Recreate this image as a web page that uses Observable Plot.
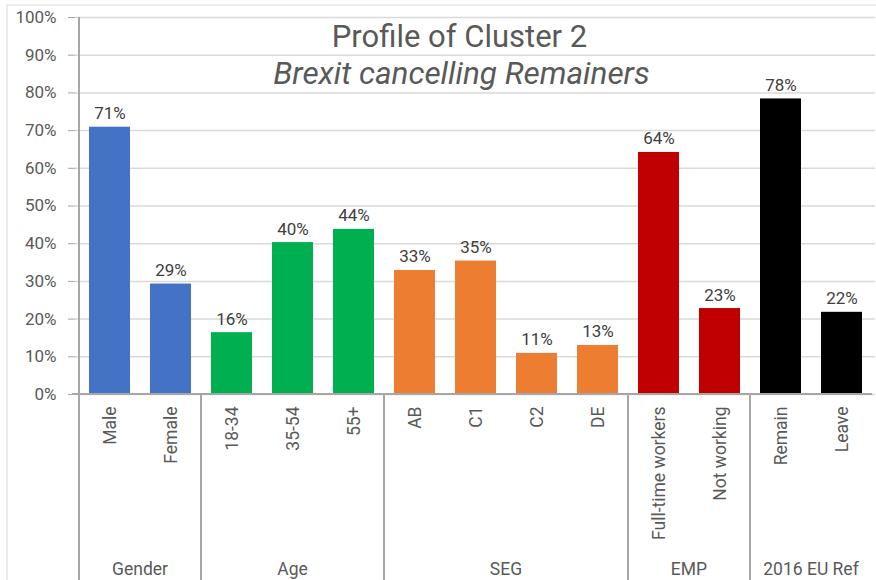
<!DOCTYPE html>
<html><head><meta charset="utf-8">
<script src="https://cdn.jsdelivr.net/npm/d3@7"></script>
<script src="https://cdn.jsdelivr.net/npm/@observablehq/plot@0.6"></script>
<style>body{margin:0;background:#fff} svg{display:block}</style>
</head><body><div id="chart"></div>
<script>
const categories = ["Male","Female","18-34","35-54","55+","AB","C1","C2","DE","Full-time workers","Not working","Remain","Leave"];
const categoryGroup = ["Gender","Gender","Age","Age","Age","SEG","SEG","SEG","SEG","EMP","EMP","2016 EU Ref","2016 EU Ref"];
const values = [0.709,0.293,0.164,0.403,0.438,0.329,0.354,0.109,0.130,0.642,0.228,0.784,0.218];
const groups = ["Gender","Age","SEG","EMP","2016 EU Ref"];
const groupColors = ["#4472C4","#00B050","#ED7D31","#C00000","#000000"];
const yTicks = [0,0.1,0.2,0.3,0.4,0.5,0.6,0.7,0.8,0.9,1.0];
const title = "Profile of Cluster 2";
const subtitle = "Brexit cancelling Remainers";

const data = categories.map((c,i)=>({cat:c, group:categoryGroup[i], value:values[i]}));
const font = "Roboto, 'Open Sans', sans-serif";

const plot = Plot.plot({
  width: 876, height: 580,
  marginLeft: 75, marginRight: 1, marginTop: 17, marginBottom: 186,
  style: {fontFamily: font, fontSize: "17px", color: "#595959", background: "#fff"},
  x: {domain: categories, paddingInner: 0.33, paddingOuter: 0.165, label: null},
  y: {domain: [0,1], label: null},
  color: {domain: groups, range: groupColors},
  marks: [
    Plot.gridY(yTicks, {stroke: "#d9d9d9", strokeOpacity: 1, strokeWidth: 1.5}),
    Plot.barY(data, {x: "cat", y: "value", fill: "group"}),
    Plot.text(data, {x: "cat", y: "value", text: d => Math.round(d.value*100) + "%", lineAnchor: "bottom", dy: -8, fill: "#404040", fontSize: 17}),
    Plot.axisY({ticks: yTicks, tickFormat: d3.format(".0%"), tickSize: 7, tickPadding: 12, stroke: "#a6a6a6", fill: "#595959", fontSize: 17}),
    Plot.axisX({tickSize: 0, tickPadding: 12, tickRotate: -90, fill: "#595959", fontSize: 17.5}),
    Plot.text([title], {frameAnchor: "top", dx: -16, dy: 29, lineAnchor: "bottom", fontSize: 31, fill: "#595959"}),
    Plot.text([subtitle], {frameAnchor: "top", dx: -14, dy: 66, lineAnchor: "bottom", fontSize: 31.5, fontStyle: "italic", fill: "#595959"})
  ]
});
document.getElementById("chart").appendChild(plot);

// group separators, group labels, axis lines, outer frame
const svg = d3.select(plot);
const xs = plot.scale("x");
const ysc = plot.scale("y");
const y0 = ysc.apply(0);
const gap = (xs.step - xs.bandwidth) / 2;
const leftEdge = xs.apply(categories[0]) - gap;
const rightEdge = xs.apply(categories[categories.length-1]) + xs.bandwidth + gap;
const g = svg.append("g");
g.append("line").attr("x1", leftEdge).attr("x2", leftEdge).attr("y1", ysc.apply(1)).attr("y2", 580)
  .attr("stroke", "#a6a6a6").attr("stroke-width", 2);
g.append("line").attr("x1", leftEdge - 7).attr("x2", rightEdge).attr("y1", y0).attr("y2", y0)
  .attr("stroke", "#a6a6a6").attr("stroke-width", 2);
groups.forEach(gr => {
  const cats = categories.filter((c,i) => categoryGroup[i] === gr);
  const start = xs.apply(cats[0]) - gap;
  const end = xs.apply(cats[cats.length-1]) + xs.bandwidth + gap;
  if (gr !== groups[groups.length-1]) {
    g.append("line").attr("x1", end).attr("x2", end).attr("y1", y0).attr("y2", 580)
      .attr("stroke", "#a6a6a6").attr("stroke-width", 2);
  }
  g.append("text").attr("x", (start+end)/2).attr("y", 575).attr("text-anchor", "middle")
    .attr("fill", "#595959").attr("font-size", 17.5).attr("font-family", font).text(gr);
});
g.append("line").attr("x1", 7).attr("x2", 876).attr("y1", 5).attr("y2", 5).attr("stroke", "#d9d9d9");
g.append("line").attr("x1", 7).attr("x2", 7).attr("y1", 5).attr("y2", 580).attr("stroke", "#d9d9d9");
</script>
</body></html>
